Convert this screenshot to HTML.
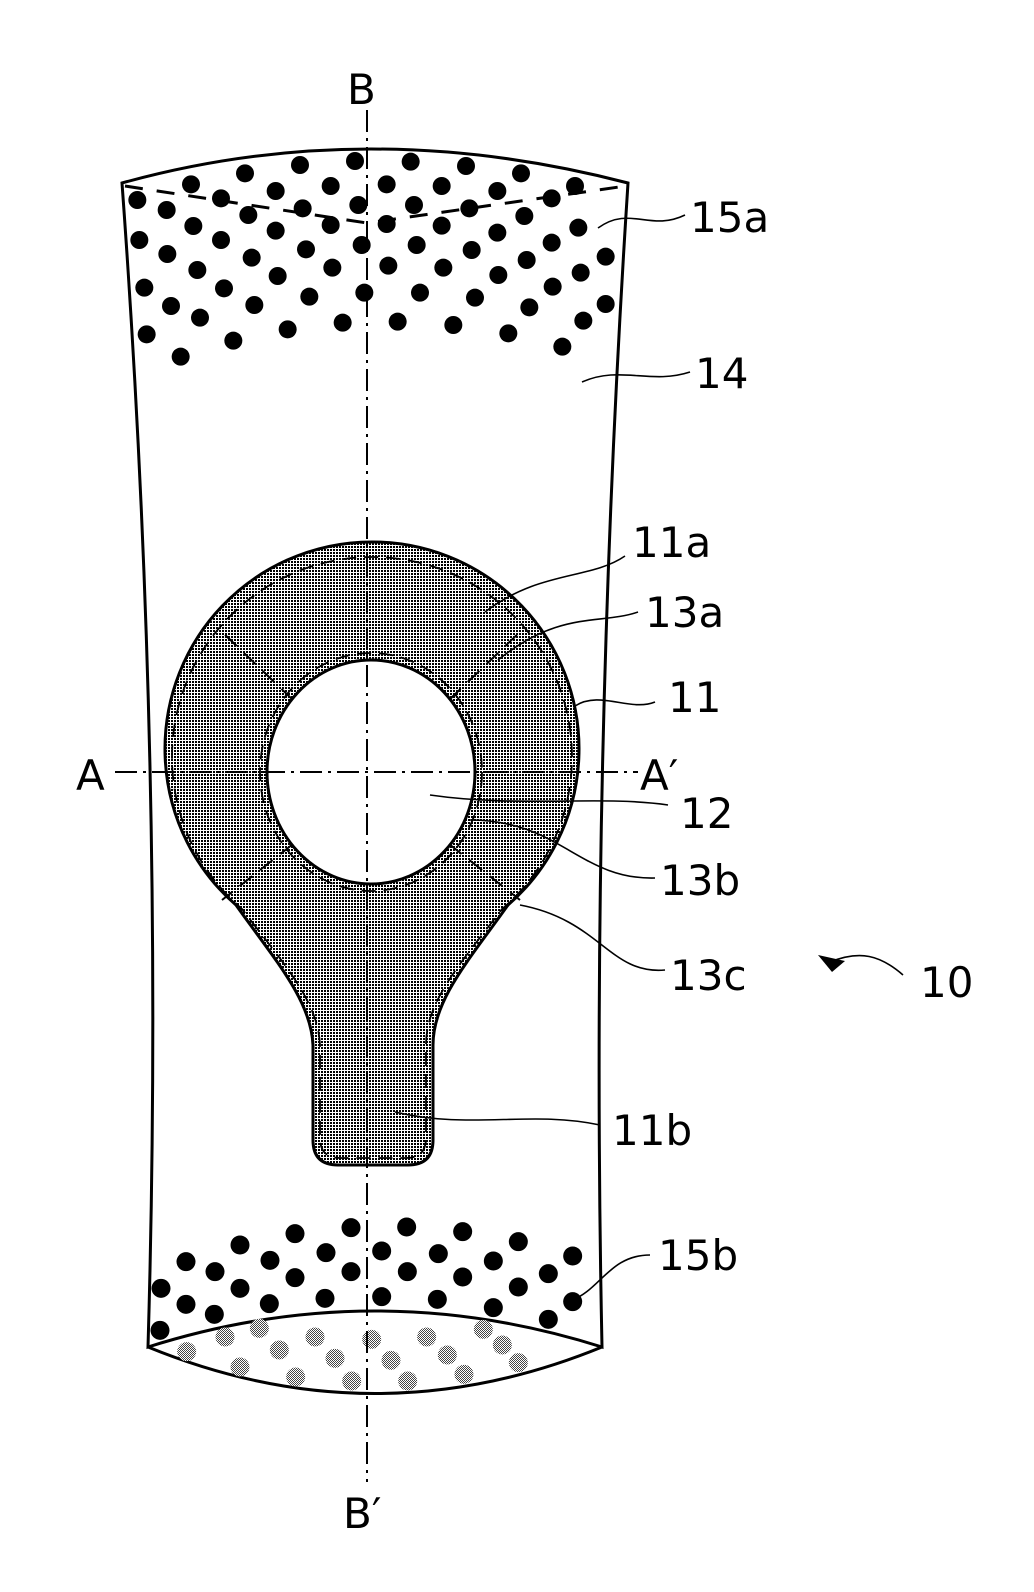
<!DOCTYPE html>
<html><head><meta charset="utf-8"><style>
html,body{margin:0;padding:0;background:#fff;}
svg{display:block;}
text{font-family:"DejaVu Sans","Liberation Sans",sans-serif;font-size:42px;fill:#000;}
</style></head><body>
<svg width="1034" height="1592" viewBox="0 0 1034 1592" xmlns="http://www.w3.org/2000/svg">
<defs>
<pattern id="dp" width="3" height="3" patternUnits="userSpaceOnUse">
<rect width="3" height="3" fill="#fff"/><rect x="0" y="0" width="2" height="2" fill="#000"/>
</pattern>
<pattern id="gp" width="2" height="2" patternUnits="userSpaceOnUse">
<rect width="2" height="2" fill="#fff"/><rect width="1" height="1" fill="#444"/><rect x="1" y="1" width="1" height="1" fill="#444"/>
</pattern>
</defs>
<path d="M122 183 Q367 115 628 183 Q590 770 602 1347 Q375 1275 148 1347 Q165 770 122 183 Z" fill="none" stroke="#000" stroke-width="3"/>
<path d="M148 1347 Q375 1440 602 1347" fill="none" stroke="#000" stroke-width="3"/>
<path d="M125 186 L367 223 L626 186" fill="none" stroke="#000" stroke-width="3" stroke-dasharray="18 14"/>
<g fill="#000" id="td"></g>
<g fill="#000" id="bd"></g>
<g fill="url(#gp)" id="gd"></g>
<path d="M313 1045 C311 1000 275 960 236 905 A207 207 0 1 1 508 905 C469 960 433 1000 433 1045 L433 1140 Q433 1165 408 1165 L338 1165 Q313 1165 313 1140 Z" fill="url(#dp)" stroke="#000" stroke-width="3"/>
<path d="M320 1045 C318 1000 282 962 242 909 A200 200 0 1 1 502 909 C462 962 426 1000 426 1045 L426 1138 Q426 1158 406 1158 L340 1158 Q320 1158 320 1138 Z" fill="none" stroke="#000" stroke-width="1.8" stroke-dasharray="14 8"/>
<ellipse cx="371" cy="772" rx="111" ry="119" fill="none" stroke="#000" stroke-width="1.8" stroke-dasharray="14 8"/>
<ellipse cx="371" cy="772" rx="104" ry="112" fill="#fff" stroke="#000" stroke-width="3"/>
<g stroke="#000" stroke-width="2" stroke-dasharray="16 10">
<line x1="293" y1="700" x2="220" y2="630"/>
<line x1="449" y1="700" x2="522" y2="630"/>
<line x1="293" y1="844" x2="222" y2="900"/>
<line x1="449" y1="844" x2="520" y2="900"/>
</g>
<line x1="367" y1="110" x2="367" y2="1482" stroke="#000" stroke-width="2" stroke-dasharray="22 6 3 6"/>
<line x1="115" y1="772" x2="638" y2="772" stroke="#000" stroke-width="2" stroke-dasharray="22 6 3 6"/>
<g fill="none" stroke="#000" stroke-width="1.6">
<path d="M598 228 C630 205 650 232 685 215"/>
<path d="M582 382 C620 365 650 385 690 372"/>
<path d="M485 612 C540 570 590 580 625 556"/>
<path d="M498 660 C560 610 600 625 638 612"/>
<path d="M575 706 C600 690 630 712 655 702"/>
<path d="M430 795 C520 808 600 795 668 805"/>
<path d="M470 820 C560 820 580 880 655 878"/>
<path d="M520 905 C600 920 610 975 665 970"/>
<path d="M395 1112 C470 1130 530 1110 600 1125"/>
<path d="M572 1300 C600 1290 610 1255 650 1255"/>
<path d="M830 962 C860 950 880 955 903 975"/>
</g>
<polygon points="818,955 845,961 832,972" fill="#000"/>
<text x="347" y="104">B</text>
<text x="690" y="232">15a</text>
<text x="695" y="388">14</text>
<text x="632" y="557">11a</text>
<text x="645" y="627">13a</text>
<text x="668" y="712">11</text>
<text x="76" y="790">A</text>
<text x="640" y="790">A′</text>
<text x="680" y="828">12</text>
<text x="660" y="895">13b</text>
<text x="670" y="990">13c</text>
<text x="920" y="997">10</text>
<text x="612" y="1145">11b</text>
<text x="658" y="1270">15b</text>
<text x="343" y="1528">B′</text>
</svg>
<script>
var ns="http://www.w3.org/2000/svg";
function add(g,pts,r,ox,oy){var el=document.getElementById(g);for(var i=0;i<pts.length;i++){var c=document.createElementNS(ns,"circle");c.setAttribute("cx",ox+pts[i][0]/3);c.setAttribute("cy",oy+pts[i][1]/3);c.setAttribute("r",r);el.appendChild(c);}}
add("td",[[82,210],[170,240],[243,163],[250,288],[333,205],[405,130],[415,255],[333,330],[88,330],[172,372],[262,420],[425,383],[497,183],[497,302],[570,105],[578,235],[588,358],[503,438],[662,168],[662,285],[667,413],[735,93],[745,225],[755,345],[763,488],[598,500],[433,525],[342,475],[103,473],[183,528],[270,563],[110,613],[212,680],[370,632],[533,598],[698,578],[830,163],[830,282],[835,407],[902,95],[912,225],[920,345],[930,488],[863,575],[995,168],[995,287],[1000,413],[1068,108],[1078,235],[1085,360],[1095,503],[1030,585],[1162,183],[1162,308],[1165,435],[1258,532],[1195,610],[1233,130],[1243,258],[1250,390],[1325,205],[1325,338],[1328,470],[1395,168],[1405,293],[1412,428],[1420,572],[1357,650],[1487,380],[1487,522]],9,110,130);
add("bd",[[108,322],[183,242],[183,370],[270,272],[268,400],[105,448],[345,192],[345,322],[435,238],[433,368],[510,158],[510,290],[603,215],[600,352],[678,140],[678,272],[770,210],[770,347],[845,138],[847,272],[940,218],[937,355],[1013,152],[1013,288],[1105,240],[1105,380],[1180,182],[1180,318],[1270,278],[1270,415],[1343,225],[1343,362]],9.5,125,1181);
add("gd",[[185,512],[300,468],[403,442],[463,507],[345,558],[512,588],[570,468],[630,532],[680,600],[740,475],[798,538],[848,600],[905,468],[967,522],[1017,580],[1075,445],[1132,492],[1180,545]],9.5,125,1181);
</script>
</body></html>
